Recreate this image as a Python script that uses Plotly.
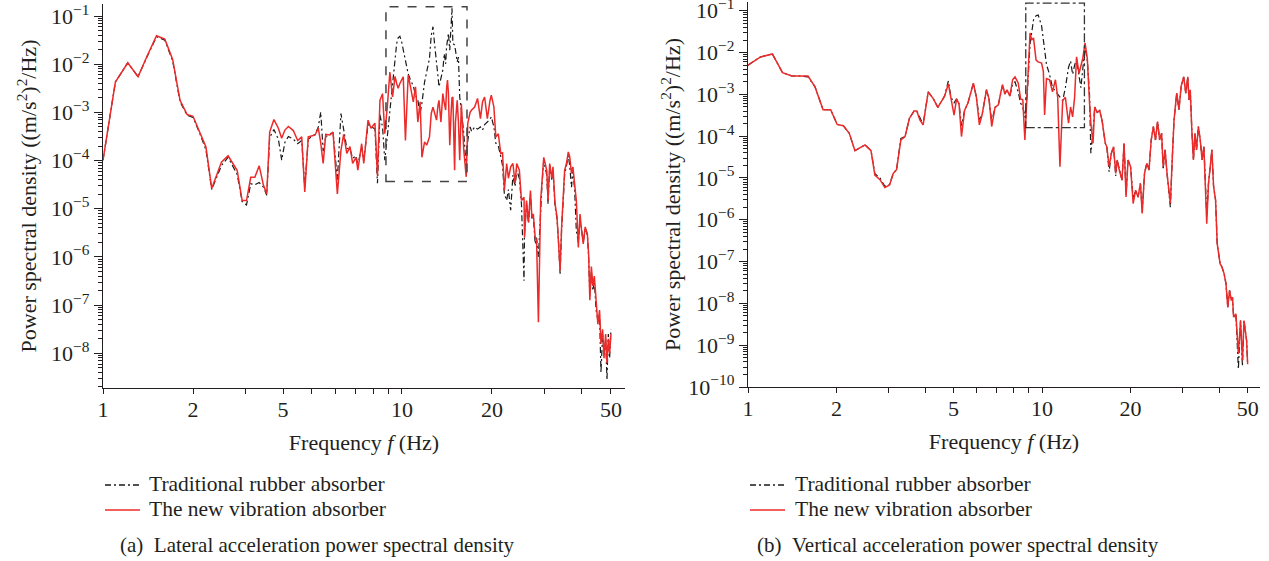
import plotly.graph_objects as go

# ---------------- data: (a) lateral acceleration PSD ----------------
lat_freq = [1.00, 1.10, 1.21, 1.31, 1.40, 1.51, 1.61, 1.71, 1.81, 1.91, 2.00, 2.11, 2.21, 2.31, 2.49,
            2.62, 2.81, 2.92, 3.02, 3.12, 3.22, 3.33, 3.44, 3.53, 3.61, 3.73, 3.86, 3.96, 4.06, 4.17,
            4.33, 4.48, 4.62, 4.73, 4.86, 5.12, 5.25, 5.35, 5.45, 5.56, 5.74, 5.88, 6.08, 6.25, 6.38,
            6.54, 6.70, 6.84, 7.02, 7.12, 7.33, 7.45, 7.70, 7.88, 8.12, 8.28, 8.44, 8.61, 8.76, 8.93,
            9.11, 9.30, 9.48, 9.60, 9.71, 9.84, 9.97, 10.1, 10.27, 10.49, 10.68, 10.91, 11.1, 11.3, 11.5,
            11.66, 11.9, 12.1, 12.36, 12.53, 12.7, 12.85, 13.05, 13.2, 13.3, 13.5, 13.7, 13.85, 14.0, 14.1,
            14.2, 14.3, 14.45, 14.6, 14.7, 14.8, 15.0, 15.1, 15.3, 15.45, 15.6, 15.8, 16.1, 16.4, 16.6,
            16.9, 17.1, 17.5, 17.9, 18.3, 18.6, 18.9, 19.3, 19.7, 19.9, 20.3, 20.6, 21.0, 21.4, 21.7,
            22.0, 22.4, 22.7, 23.1, 23.5, 23.9, 24.2, 24.7, 25.1, 25.6, 25.7, 26.1, 26.5, 26.9, 27.2,
            27.5, 27.9, 28.2, 28.6, 29.1, 29.4, 29.8, 30.5, 30.8, 31.2, 31.7, 32.0, 32.5, 33.0, 33.4,
            33.8, 34.2, 34.6, 35.0, 35.5, 36.0, 36.4, 36.9, 37.3, 37.8, 38.3, 38.9, 39.4, 39.9, 40.4,
            41.0, 41.7, 42.1, 42.5, 43.0, 43.5, 44.0, 44.6, 45.2, 45.8, 46.3, 46.9, 47.4, 48.0, 48.5,
            49.0, 49.5, 50.0]
lat_new = [1.02e-4, 4.27e-3, 1.07e-2, 5.50e-3, 1.41e-2, 3.89e-2, 3.31e-2, 1.26e-2, 1.78e-3, 9.1e-4,
           8.3e-4, 3.9e-4, 1.91e-4, 2.63e-5, 9.3e-5, 1.26e-4, 6.3e-5, 1.48e-5, 1.48e-5, 4.5e-5,
           4.5e-5, 7.8e-5, 3.1e-5, 2.04e-5, 3.9e-4, 7.1e-4, 4.7e-4, 2.9e-4, 4.3e-4, 5.1e-4,
           4.2e-4, 2.6e-4, 3.1e-4, 2.24e-5, 3.1e-4, 3.4e-4, 4.7e-4, 2.3e-4, 8.7e-5, 3.5e-4,
           3.4e-4, 3.9e-4, 2.04e-5, 1.62e-4, 3.5e-4, 1.41e-4, 1.95e-4, 8.7e-5, 1.17e-4, 6.3e-5,
           2.24e-4, 8.7e-5, 6.9e-4, 4.7e-4, 6.0e-4, 4.9e-5, 1.78e-3, 2.45e-3, 3.6e-4, 1.29e-3,
           6.9e-3, 2.09e-3, 5.6e-3, 3.98e-3, 3.16e-3, 3.98e-3, 4.7e-3, 5.5e-3, 2.6e-4, 5.9e-3,
           3.4e-3, 1.66e-3, 3.4e-3, 6.3e-4, 1.66e-3, 1.17e-4, 2.45e-4, 2.09e-4, 3.1e-4, 9.5e-4,
           1.29e-3, 1.0e-3, 6.9e-4, 1.41e-3, 1.78e-3, 6.3e-4, 2.45e-3, 1.58e-3, 1.12e-3, 3.16e-3,
           4.7e-3, 2.51e-3, 2.09e-4, 1.0e-3, 2.0e-3, 2.09e-3, 6.3e-5, 6.3e-4, 1.78e-3, 6.3e-4,
           1.02e-4, 1.51e-3, 1.62e-4, 4.6e-5, 5.9e-4, 1.0e-3, 1.12e-3, 1.29e-3, 1.95e-3, 7.4e-4,
           1.66e-3, 2.09e-3, 7.4e-4, 1.78e-3, 2.29e-3, 1.29e-3, 3.1e-4, 3.6e-4, 1.41e-4, 1.45e-4,
           2.4e-5, 8.7e-5, 4.3e-5, 7.4e-5, 8.7e-5, 3.4e-5, 8.7e-5, 6.3e-5, 1.48e-5, 1.74e-5,
           2.57e-6, 1.48e-5, 5.2e-6, 2.4e-5, 6.6e-6, 7.8e-6, 2.57e-6, 2.19e-6, 4.4e-8, 1.48e-5,
           3.5e-5, 1.17e-4, 6.3e-5, 1.48e-5, 8.7e-5, 4.3e-5, 7.4e-5, 1.29e-5, 6.9e-6, 2.19e-6,
           5.2e-7, 4.2e-6, 2.4e-5, 6.3e-5, 8.7e-5, 1.51e-4, 1.2e-4, 5.4e-5, 7.4e-5, 2.8e-5,
           1.48e-5, 1.58e-6, 7.8e-6, 3.5e-6, 1.86e-6, 4.2e-6, 3.0e-6, 1.15e-6, 1.26e-7, 6.3e-7,
           2.51e-7, 4.0e-7, 1.0e-7, 4.0e-8, 7.9e-8, 1.58e-8, 3.16e-8, 7.9e-9, 2.51e-8, 6.2e-9,
           2.0e-8, 1.0e-8, 2.51e-8]
lat_trad = [1.02e-4, 4.27e-3, 1.07e-2, 5.50e-3, 1.38e-2, 3.72e-2, 3.16e-2, 1.17e-2, 1.66e-3, 8.7e-4,
            7.9e-4, 3.6e-4, 1.66e-4, 2.51e-5, 7.9e-5, 1.17e-4, 5.2e-5, 1.41e-5, 1.20e-5, 3.3e-5,
            3.16e-5, 3.5e-5, 2.8e-5, 1.91e-5, 3.0e-4, 4.4e-4, 2.8e-4, 1.02e-4, 2.4e-4, 3.16e-4,
            2.8e-4, 2.24e-4, 2.6e-4, 2.8e-5, 2.8e-4, 3.5e-4, 5.0e-4, 1.02e-3, 1.58e-4, 3.16e-4,
            3.5e-4, 4.0e-4, 4.0e-5, 9.5e-4, 4.5e-4, 1.78e-4, 1.78e-4, 1.12e-4, 1.26e-4, 7.9e-5,
            2.0e-4, 1.0e-4, 5.6e-4, 5.0e-4, 4.5e-4, 3.4e-5, 8.9e-4, 5.0e-4, 1.02e-4, 3.1e-4,
            1.12e-3, 3.98e-3, 1.32e-2, 2.69e-2, 3.55e-2, 3.8e-2, 2.95e-2, 1.95e-2, 1.12e-2, 6.3e-3,
            4.7e-3, 3.55e-3, 2.29e-3, 1.78e-3, 9.5e-4, 1.55e-3, 4.27e-3, 7.6e-3, 1.32e-2, 3.98e-2,
            6.0e-2, 2.69e-2, 1.23e-2, 5.5e-3, 3.4e-3, 5.0e-3, 7.6e-3, 1.66e-2, 1.02e-2, 2.29e-2,
            3.55e-2, 4.4e-2, 1.95e-2, 8.3e-2, 1.45e-1, 2.69e-2, 2.51e-2, 1.95e-2, 1.12e-2, 1.41e-2,
            2.09e-3, 1.12e-3, 3.6e-4, 7.4e-5, 2.6e-4, 5.0e-4, 4.0e-4, 5.0e-4, 4.5e-4, 5.0e-4,
            4.3e-4, 5.6e-4, 6.3e-4, 7.1e-4, 8.1e-4, 5.0e-4, 2.29e-4, 2.0e-4, 1.23e-4, 7.9e-5,
            2.04e-5, 1.48e-5, 2.51e-5, 9.3e-6, 5.0e-5, 2.9e-5, 6.3e-5, 4.3e-5, 1.26e-5, 3.2e-7,
            3.16e-6, 1.26e-5, 5.0e-6, 2.0e-5, 6.3e-6, 7.1e-6, 1.86e-6, 2.51e-6, 1.0e-6, 1.26e-5,
            3.16e-5, 1.0e-4, 5.0e-5, 1.26e-5, 7.9e-5, 4.0e-5, 6.3e-5, 1.12e-5, 6.3e-6, 2.0e-6,
            4.5e-7, 4.0e-6, 2.0e-5, 5.0e-5, 7.9e-5, 1.26e-4, 7.9e-5, 2.8e-5, 6.3e-5, 2.51e-5,
            3.5e-6, 2.0e-6, 6.3e-6, 3.16e-6, 2.0e-6, 4.0e-6, 2.8e-6, 1.0e-6, 1.58e-7, 5.0e-7,
            2.0e-7, 3.16e-7, 7.9e-8, 5.0e-8, 6.3e-8, 4.0e-9, 2.51e-8, 1.0e-8, 2.0e-8, 2.8e-9,
            2.51e-8, 7.9e-9, 3.16e-8]

# ---------------- data: (b) vertical acceleration PSD ----------------
ver_freq = [1.00, 1.10, 1.21, 1.31, 1.41, 1.50, 1.60, 1.69, 1.80, 1.91, 2.01, 2.11, 2.21, 2.31, 2.50,
            2.62, 2.70, 2.81, 2.92, 3.03, 3.12, 3.20, 3.31, 3.42, 3.54, 3.67, 3.75, 3.84, 3.94, 4.10,
            4.27, 4.42, 4.55, 4.66, 4.80, 4.90, 5.02, 5.12, 5.22, 5.32, 5.45, 5.60, 5.84, 5.98, 6.12,
            6.25, 6.47, 6.60, 6.74, 6.92, 7.10, 7.22, 7.34, 7.47, 7.60, 7.77, 7.94, 8.09, 8.30, 8.45,
            8.60, 8.74, 8.90, 9.10, 9.22, 9.35, 9.54, 9.70, 9.96, 10.10, 10.20, 10.35, 10.60, 10.85, 11.10,
            11.30, 11.50, 11.75, 12.00, 12.30, 12.50, 12.70, 12.90, 13.10, 13.35, 13.55, 13.75, 14.00, 14.25, 14.50,
            14.65, 14.90, 15.10, 15.40, 15.70, 16.00, 16.40, 16.60, 16.90, 17.20, 17.50, 17.80, 18.00, 18.30, 18.70,
            19.00, 19.30, 19.60, 20.00, 20.40, 20.80, 21.20, 21.60, 21.90, 22.30, 22.70, 23.10, 23.50, 23.90, 24.30,
            24.70, 25.10, 25.50, 25.80, 26.20, 26.60, 27.00, 27.30, 27.70, 28.10, 28.70, 29.20, 29.70, 30.30, 30.80,
            31.30, 31.60, 31.90, 32.30, 32.70, 33.10, 33.50, 34.00, 34.50, 35.00, 35.50, 36.30, 36.80, 37.30, 37.80,
            38.30, 38.90, 39.40, 39.80, 40.30, 40.90, 41.60, 42.20, 42.80, 43.40, 44.00, 44.40, 44.80, 45.60, 46.50,
            47.30, 48.00, 48.60, 49.20, 49.60, 50.00]
ver_new = [5.0e-3, 7.8e-3, 9.3e-3, 3.3e-3, 2.75e-3, 2.75e-3, 2.75e-3, 1.51e-3, 4.3e-4, 4.3e-4,
           1.91e-4, 1.78e-4, 1.17e-4, 4.5e-5, 6.2e-5, 4.5e-5, 1.17e-5, 9.1e-6, 5.9e-6, 6.8e-6,
           1.29e-5, 1.58e-5, 8.1e-5, 9.8e-5, 2.69e-4, 4.0e-4, 4.0e-4, 2.45e-4, 1.86e-4, 1.15e-3,
           7.8e-4, 4.9e-4, 7.1e-4, 9.1e-4, 1.78e-3, 8.5e-4, 3.2e-4, 7.8e-4, 5.9e-4, 9.8e-5,
           4.1e-4, 6.3e-4, 1.86e-3, 8.5e-4, 1.86e-4, 3.2e-4, 1.29e-3, 7.8e-4, 1.70e-4, 4.9e-4,
           5.6e-4, 1.02e-3, 1.70e-3, 1.02e-3, 1.29e-3, 9.1e-4, 2.24e-3, 2.63e-3, 1.86e-3, 7.8e-4,
           7.4e-4, 8.1e-5, 1.51e-3, 2.95e-2, 2.0e-2, 2.24e-2, 6.6e-3, 6.0e-3, 5.6e-3, 3.55e-3,
           3.2e-4, 2.4e-3, 2.24e-3, 1.15e-3, 2.24e-3, 8.5e-4, 1.86e-5, 7.1e-4, 8.5e-4, 2.04e-4,
           5.0e-4, 2.9e-4, 8.5e-4, 7.9e-3, 3.16e-3, 4.6e-3, 7.2e-3, 1.70e-2, 7.2e-3, 6.2e-4,
           2.04e-4, 6.8e-5, 5.0e-4, 3.7e-4, 4.1e-4, 2.34e-4, 6.8e-5, 5.6e-5, 1.86e-5, 3.9e-5,
           5.6e-5, 1.29e-5, 2.69e-5, 1.55e-5, 8.9e-6, 6.8e-5, 3.5e-6, 2.69e-5, 1.86e-5, 2.45e-6,
           5.1e-6, 3.5e-6, 7.4e-6, 1.41e-6, 1.29e-5, 2.24e-5, 1.55e-5, 8.1e-5, 1.70e-4, 8.1e-5,
           2.24e-4, 8.1e-5, 1.17e-4, 1.86e-5, 4.7e-5, 1.29e-5, 4.3e-6, 2.45e-6, 2.69e-5, 2.45e-4,
           1.07e-3, 4.3e-4, 1.55e-3, 2.63e-3, 1.07e-3, 2.63e-3, 7.4e-4, 1.29e-3, 1.41e-4, 2.69e-5,
           1.17e-4, 4.7e-5, 1.70e-4, 8.1e-5, 2.69e-5, 5.6e-5, 8.1e-7, 7.4e-6, 1.86e-5, 4.7e-5,
           6.2e-6, 2.95e-6, 2.69e-7, 1.55e-7, 8.9e-8, 7.4e-8, 5.1e-8, 2.95e-8, 8.1e-9, 2.04e-8,
           1.17e-8, 1.41e-8, 4.7e-9, 5.6e-9, 6.2e-10, 3.9e-9, 4.3e-10, 3.9e-9, 1.55e-9, 1.29e-9,
           3.5e-10]
ver_trad = [5.0e-3, 7.8e-3, 9.3e-3, 3.3e-3, 2.75e-3, 2.75e-3, 2.63e-3, 1.51e-3, 4.3e-4, 4.3e-4,
            1.91e-4, 1.78e-4, 1.17e-4, 4.5e-5, 6.2e-5, 4.5e-5, 1.26e-5, 1.0e-5, 6.3e-6, 7.1e-6,
            1.29e-5, 1.58e-5, 8.9e-5, 9.8e-5, 2.69e-4, 4.0e-4, 4.0e-4, 2.8e-4, 1.91e-4, 1.15e-3,
            7.8e-4, 4.9e-4, 7.1e-4, 9.1e-4, 2.09e-3, 8.5e-4, 6.3e-4, 7.8e-4, 5.9e-4, 1.78e-4,
            4.1e-4, 6.3e-4, 1.86e-3, 8.5e-4, 2.51e-4, 3.2e-4, 1.29e-3, 7.8e-4, 2.24e-4, 4.9e-4,
            5.6e-4, 1.02e-3, 1.70e-3, 1.02e-3, 1.29e-3, 9.1e-4, 1.78e-3, 2.0e-3, 1.12e-3, 6.2e-4,
            5.0e-4, 2.8e-4, 1.0e-3, 1.58e-2, 3.55e-2, 6.0e-2, 7.6e-2, 7.9e-2, 4.4e-2, 2.0e-2,
            1.32e-2, 5.2e-3, 3.0e-3, 1.45e-3, 1.2e-3, 1.0e-3, 8.5e-4, 7.1e-4, 1.45e-3, 4.4e-3,
            6.3e-3, 3.0e-3, 5.0e-3, 6.9e-3, 2.8e-3, 1.45e-3, 4.0e-3, 1.41e-2, 6.3e-3, 1.0e-3,
            3.9e-5, 1.26e-4, 5.0e-4, 3.7e-4, 4.1e-4, 2.34e-4, 6.8e-5, 5.6e-5, 1.41e-5, 3.9e-5,
            5.6e-5, 1.12e-5, 2.69e-5, 1.55e-5, 8.9e-6, 6.8e-5, 4.0e-6, 2.69e-5, 1.86e-5, 3.16e-6,
            5.1e-6, 3.5e-6, 7.4e-6, 1.58e-6, 1.29e-5, 2.24e-5, 1.55e-5, 8.1e-5, 1.70e-4, 8.1e-5,
            2.24e-4, 8.1e-5, 1.17e-4, 1.58e-5, 4.7e-5, 1.29e-5, 4.3e-6, 2.0e-6, 2.69e-5, 2.45e-4,
            1.07e-3, 4.3e-4, 1.55e-3, 2.63e-3, 1.07e-3, 2.63e-3, 7.4e-4, 1.29e-3, 1.41e-4, 2.69e-5,
            1.17e-4, 4.7e-5, 1.70e-4, 8.1e-5, 2.69e-5, 5.6e-5, 1.26e-6, 7.4e-6, 1.86e-5, 4.7e-5,
            6.2e-6, 2.95e-6, 2.69e-7, 1.55e-7, 8.9e-8, 7.4e-8, 5.1e-8, 2.95e-8, 8.1e-9, 2.04e-8,
            1.17e-8, 1.41e-8, 4.7e-9, 5.6e-9, 2.69e-10, 3.9e-9, 3.16e-10, 3.9e-9, 1.55e-9, 1.29e-9,
            3.5e-10]

# tick labels (the reference prints "5" under the 4 Hz tick of panel (a))
lat_xtick_vals = [1, 2, 4, 10, 20, 50]
ver_xtick_vals = [1, 2, 5, 10, 20, 50]
xtick_text = ["1", "2", "5", "10", "20", "50"]
lat_xminor = [3, 5, 6, 7, 8, 9, 30, 40]
ver_xminor = [3, 4, 6, 7, 8, 9, 30, 40]
lat_decades = [-1, -2, -3, -4, -5, -6, -7, -8]
ver_decades = [-1, -2, -3, -4, -5, -6, -7, -8, -9, -10]

# highlighted regions
lat_box = dict(f0=8.84, f1=16.5, p0=3.7e-5, p1=0.155)
ver_box = dict(f0=8.8, f1=13.93, p0=1.6e-4, p1=0.153)

names = ["Traditional rubber absorber", "The new vibration absorber"]
captions = ["(a)&nbsp;&nbsp;Lateral acceleration power spectral density",
            "(b)&nbsp;&nbsp;Vertical acceleration power spectral density"]

FONT = "Liberation Serif"
TXT = "#231f20"
RED = "#ec2a2a"
BLK = "#1a1a1a"
TRAD_DASH = "6px,3px,2px,3px"
W, H = 1269, 561

fig = go.Figure()
for (fq, tr, nw, xa, ya) in [(lat_freq, lat_trad, lat_new, "x", "y"),
                             (ver_freq, ver_trad, ver_new, "x2", "y2")]:
    fig.add_trace(go.Scatter(x=fq, y=tr, mode="lines", name=names[0], xaxis=xa, yaxis=ya, showlegend=False,
                             line=dict(color=BLK, width=1.2, dash=TRAD_DASH)))
    fig.add_trace(go.Scatter(x=fq, y=nw, mode="lines", name=names[1], xaxis=xa, yaxis=ya, showlegend=False,
                             line=dict(color=RED, width=1.5)))


def ylabels(decs):
    return [10.0 ** d for d in decs], ["10<sup>\u2212%d</sup>" % (-d) for d in decs]


def yminor(decs):
    vals = []
    for d in decs + [min(decs) - 1]:
        for k in range(2, 10):
            vals.append(k * 10.0 ** d)
    return vals


TICKF = dict(family=FONT, size=22, color=TXT)
TITLEF = dict(family=FONT, size=22, color=TXT)
common = dict(showgrid=False, zeroline=False, showline=True, linecolor=TXT, linewidth=1.3,
              ticks="outside", tickcolor=TXT, tickwidth=1.2, tickfont=TICKF,
              ticklabeloverflow="allow", automargin=False)
ytitle = "Power spectral density ((m/s<sup>2</sup>)<sup>2</sup>/Hz)"
xtitle = "Frequency <i>f</i> (Hz)"

lv, lt = ylabels(lat_decades)
vv, vt = ylabels(ver_decades)

fig.update_layout(
    width=W, height=H, margin=dict(l=0, r=0, t=0, b=0, pad=0, autoexpand=False),
    paper_bgcolor="white", plot_bgcolor="white", showlegend=False,
    font=dict(family=FONT, color=TXT),
    xaxis=dict(common, type="log", domain=[103 / W, 625 / W], range=[0, 1.746], anchor="y",
               tickvals=lat_xtick_vals, ticktext=xtick_text, ticklen=5, ticklabelstandoff=-4,
               minor=dict(tickvals=lat_xminor, ticklen=5, ticks="outside", tickcolor=TXT, tickwidth=1.2),
               title=dict(text=xtitle, font=TITLEF, standoff=14)),
    yaxis=dict(common, type="log", domain=[1 - 388 / H, 1 - 4 / H], range=[-8.72, -0.75], anchor="x",
               tickvals=lv, ticktext=lt, ticklen=8,
               minor=dict(tickvals=yminor(lat_decades), ticklen=4, ticks="outside", tickcolor=TXT, tickwidth=1),
               title=dict(text=ytitle, font=TITLEF, standoff=8)),
    xaxis2=dict(common, type="log", domain=[748 / W, 1260 / W], range=[0, 1.741], anchor="y2",
                tickvals=ver_xtick_vals, ticktext=xtick_text, ticklen=5, ticklabelstandoff=-4,
                minor=dict(tickvals=ver_xminor, ticklen=5, ticks="outside", tickcolor=TXT, tickwidth=1.2),
                title=dict(text=xtitle, font=TITLEF, standoff=14)),
    yaxis2=dict(common, type="log", domain=[1 - 387 / H, 1 - 2 / H], range=[-10, -0.79], anchor="x2",
                tickvals=vv, ticktext=vt, ticklen=8,
                minor=dict(tickvals=yminor(ver_decades), ticklen=4, ticks="outside", tickcolor=TXT, tickwidth=1),
                title=dict(text=ytitle, font=TITLEF, standoff=1)),
)

fig.add_shape(type="rect", xref="x", yref="y", x0=lat_box["f0"], x1=lat_box["f1"],
              y0=lat_box["p0"], y1=lat_box["p1"], line=dict(color="#444444", width=1.5, dash="dash"))
fig.add_shape(type="rect", xref="x2", yref="y2", x0=ver_box["f0"], x1=ver_box["f1"],
              y0=ver_box["p0"], y1=ver_box["p1"], line=dict(color="#333333", width=1.3, dash="dashdot"))

# legends (sample line + label) for each panel
legend_rows = [(485, dict(color=BLK, width=1.3, dash=TRAD_DASH), names[0]),
               (510, dict(color=RED, width=1.6), names[1])]
for (lx0, lx1, tx) in [(105, 140, 147), (750, 785, 793)]:
    for (ry, lstyle, label) in legend_rows:
        fig.add_shape(type="line", xref="paper", yref="paper", x0=lx0 / W, x1=lx1 / W,
                      y0=1 - ry / H, y1=1 - ry / H, line=lstyle)
        fig.add_annotation(x=tx / W, y=1 - (ry - 1) / H, xref="paper", yref="paper", text=label,
                           showarrow=False, xanchor="left", yanchor="middle",
                           font=dict(family=FONT, size=21.5, color=TXT))

for cx, txt in [(318 / W, captions[0]), (958 / W, captions[1])]:
    fig.add_annotation(x=cx, y=1 - 545 / H, xref="paper", yref="paper", text=txt, showarrow=False,
                       xanchor="center", yanchor="middle", font=dict(family=FONT, size=21, color=TXT))

fig.write_html("out.html")
